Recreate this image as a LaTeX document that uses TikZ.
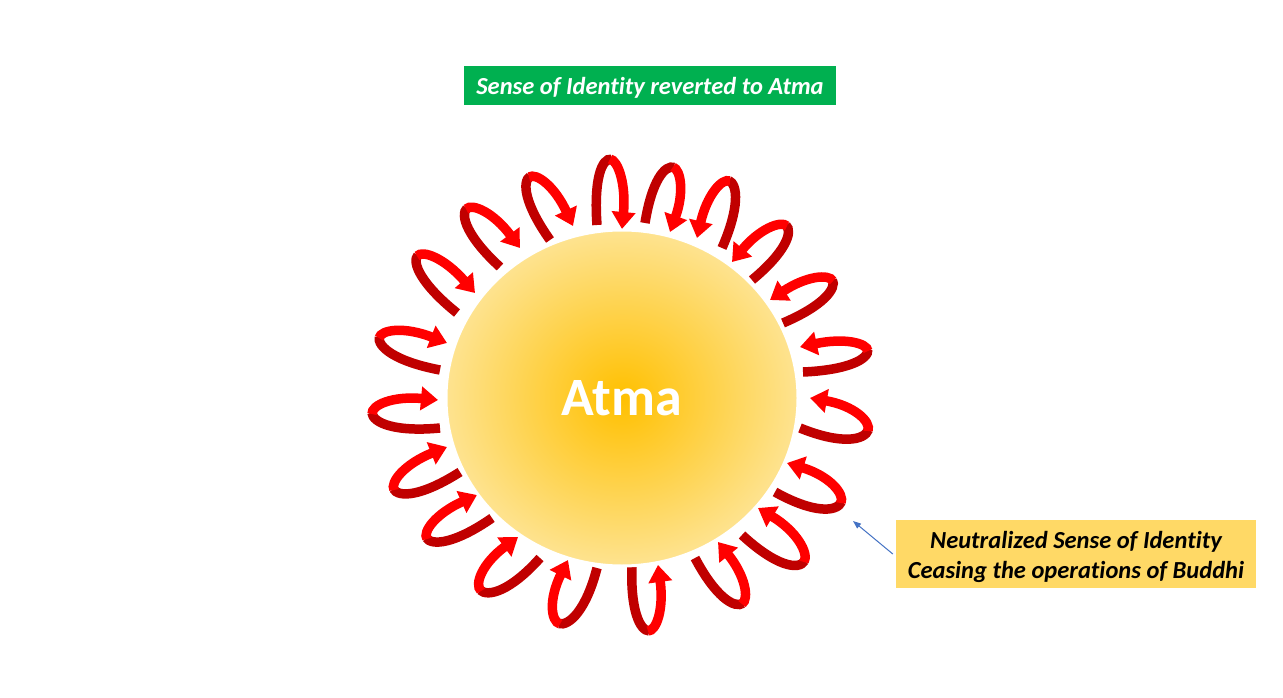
\documentclass[tikz,border=0pt]{standalone}
\usepackage{fontspec}
\setmainfont{Carlito}[Ligatures=NoCommon]
\usetikzlibrary{arrows.meta,calc,shapes.geometric}
\definecolor{rdark}{RGB}{192,0,0}
\definecolor{rbright}{RGB}{255,0,0}
\definecolor{sunin}{RGB}{255,192,0}
\definecolor{sunout}{RGB}{254,227,144}
\definecolor{gbox}{RGB}{0,176,80}
\definecolor{ybox}{RGB}{255,217,102}
\definecolor{bline}{RGB}{68,114,196}
\pgfdeclareradialshading{sunshade}{\pgfpoint{0bp}{0bp}}{color(0bp)=(sunin); color(25bp)=(sunout); color(50bp)=(sunout)}
\tikzset{
  darkleg/.style={draw=rdark, line width=9.5pt, shorten >=-1.5pt},
  brightleg/.style={draw=rbright, line width=9.5pt, -{Triangle[width=23pt,length=17pt]}},
  labelbox/.style={inner sep=0pt, align=center, font=\fontsize{24.5}{30}\selectfont\bfseries\itshape},
}
\newcommand\sunloop[6]{%
  \coordinate (lT) at (#1,#2);
  \coordinate (lA) at (#3,#4);
  \coordinate (lH) at (#5,#6);
  \draw[darkleg] (lT) .. controls ($0.8167*(lT)+0.6667*(lA)-0.4833*(lH)$) and ($(lA)+0.325*(lT)-0.325*(lH)$) .. (lA);
  \draw[brightleg] (lA) .. controls ($(lA)+0.325*(lH)-0.325*(lT)$) and ($0.8167*(lH)+0.6667*(lA)-0.4833*(lT)$) .. (lH);
}
\begin{document}
\begin{tikzpicture}[x=1pt,y=-1pt]
\useasboundingbox[fill=white] (0,0) rectangle (1283,698);
% loops
\sunloop{597}{225}{610}{159}{622}{229}
\sunloop{550}{240}{529}{177}{573}{226}
\sunloop{500}{267}{466}{209}{520}{248}
\sunloop{457}{313}{417}{256}{475}{293}
\sunloop{440}{370}{379}{338}{447}{343}
\sunloop{440}{428}{372}{414}{438}{400}
\sunloop{460}{472}{394}{490}{447}{447}
\sunloop{492}{518}{427}{539}{477}{495}
\sunloop{540}{558}{481}{591}{518}{537}
\sunloop{597}{568}{560}{624}{568}{560}
\sunloop{632}{565}{648}{631}{658}{565}
\sunloop{695}{558}{742}{604}{718}{542}
\sunloop{742}{535}{804}{562}{758}{508}
\sunloop{775}{492}{841}{503}{787}{463}
\sunloop{800}{428}{868}{431}{810}{398}
\sunloop{803}{372}{868}{351}{800}{347}
\sunloop{783}{323}{833}{281}{770}{300}
\sunloop{752}{280}{787}{226}{732}{262}
\sunloop{722}{248}{730}{181}{697}{238}
\sunloop{645}{223}{673}{167}{670}{232}
% sun
\node[ellipse, minimum width=352pt, minimum height=336pt, inner sep=0pt,
      shading=sunshade, draw=white, line width=3pt, text=white,
      font=\fontsize{54}{60}\selectfont\bfseries] (sun) at (622,398) {Atma};
% labels
\node[labelbox, fill=gbox, text=white, minimum width=372pt, minimum height=39pt] (top) at (650,85.5) {\rule{0pt}{21.5pt}Sense of Identity reverted to Atma};
\node[labelbox, fill=ybox, text=black, minimum width=360pt, minimum height=68pt] (note) at (1076,554) {\rule{0pt}{23.5pt}Neutralized Sense of Identity\\Ceasing the operations of Buddhi};
\coordinate (bt) at (853,521);
\draw[bline, line width=1pt, -{Triangle[width=6pt,length=8pt]}] ([xshift=-3pt]note.west) -- (bt);
\end{tikzpicture}
\end{document}
